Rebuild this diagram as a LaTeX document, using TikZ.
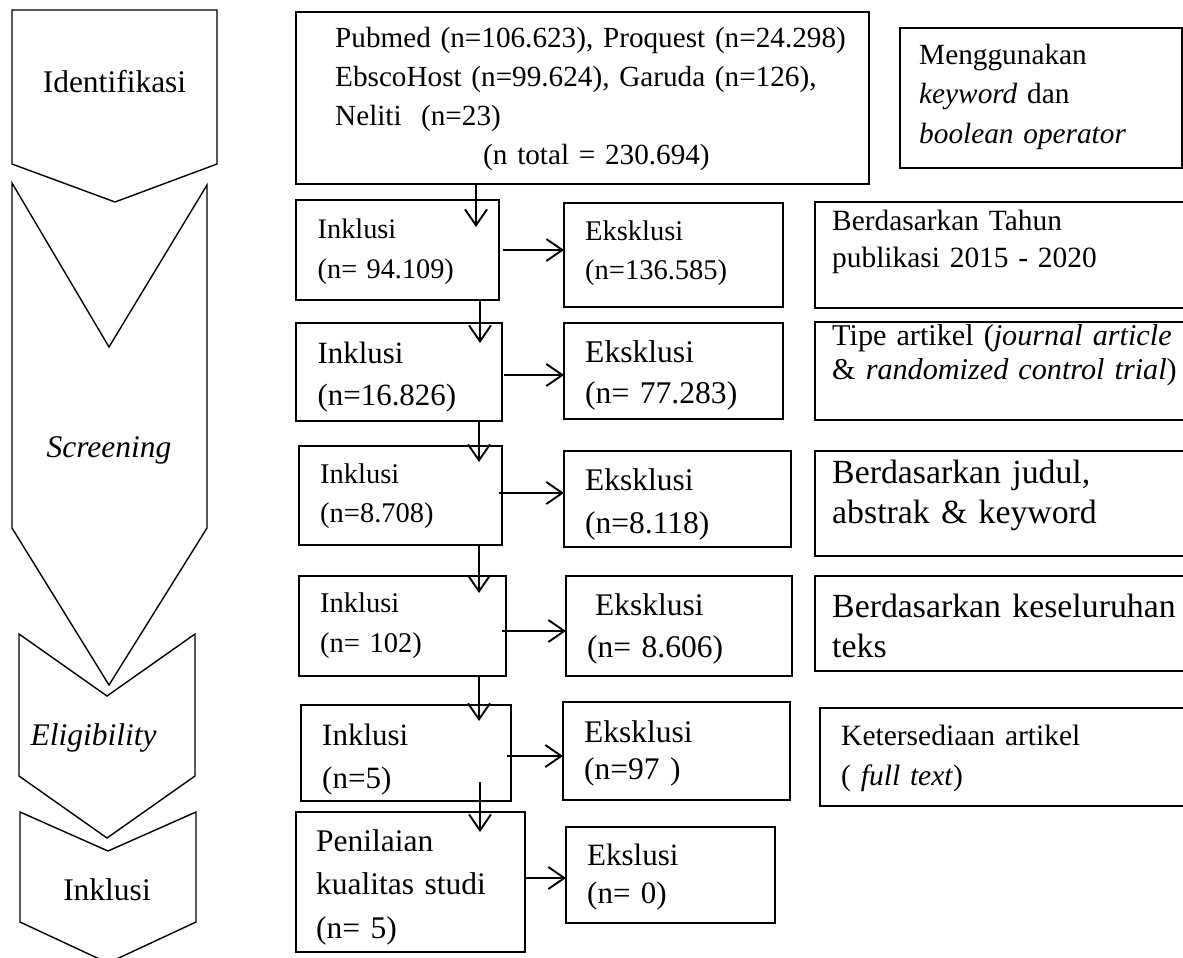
\documentclass[tikz,border=0pt]{standalone}
\usepackage{fontspec}
\setmainfont{Liberation Serif}
\usetikzlibrary{arrows.meta,fit,calc}
\newcommand\fs[2]{\fontsize{#1}{#2}\selectfont}
\tikzset{
  box/.style={draw, line width=1.6pt, inner sep=0pt, outer sep=0pt},
  arr/.style={line width=1.9pt, -{Straight Barb[length=16pt,width=22pt]}},
  chev/.style={line width=1.4pt, line join=miter},
  lbl/.style={anchor=base west, inner sep=0pt, text width=600pt, align=left},
  side/.style={anchor=base, inner sep=0pt},
}
\begin{document}
\begin{tikzpicture}[x=1pt,y=-1pt]
\useasboundingbox (0,0) rectangle (1183,958);
\clip (0,0) rectangle (1183,958);

% stage chevrons
\draw[chev] (12,10) -- (217,10) -- (217,164) -- (115,202) -- (12,164) -- cycle;
\draw[chev] (12,183) -- (109,347) -- (207,185) -- (207,528) -- (109,685) -- (12,528) -- cycle;
\draw[chev] (19,634) -- (107,696) -- (195,634) -- (195,776) -- (107,838) -- (19,776) -- cycle;
\draw[chev] (20,812) -- (108,851) -- (196,812) -- (196,922) -- (108,963) -- (20,922) -- cycle;
\node[side, font=\fs{31.5}{38}] (lid) at (114.5,92.7) {Identifikasi};
\node[side, font=\fs{31.5}{38}\itshape] (lsc) at (109,457) {Screening};
\node[side, font=\fs{31.5}{38}\itshape] (lel) at (93.5,745) {Eligibility};
\node[side, font=\fs{31.5}{38}] (lin) at (107,900) {Inklusi};

% boxes
\node[box, fit={(296,12) (869,184)}] (top) {};
\node[box, fit={(900,28) (1182,168)}] (kw) {};
\node[box, fit={(296,200) (499,300)}] (in1) {};
\node[box, fit={(564,203) (783,307)}] (ex1) {};
\node[box, fit={(815,202) (1195,308)}] (r1) {};
\node[box, fit={(296,323) (502,421)}] (in2) {};
\node[box, fit={(564,323) (783,419)}] (ex2) {};
\node[box, fit={(815,322) (1195,420)}] (r2) {};
\node[box, fit={(299,446) (502,545)}] (in3) {};
\node[box, fit={(564,451) (791,547)}] (ex3) {};
\node[box, fit={(815,451) (1195,556)}] (r3) {};
\node[box, fit={(299,576) (506,676)}] (in4) {};
\node[box, fit={(566,576) (792,676)}] (ex4) {};
\node[box, fit={(815,576) (1195,671)}] (r4) {};
\node[box, fit={(301,705) (511,801)}] (in5) {};
\node[box, fit={(563,702) (790,800)}] (ex5) {};
\node[box, fit={(820,708) (1195,806)}] (r5) {};
\node[box, fit={(296,812) (525,952)}] (pen) {};
\node[box, fit={(566,827) (775,923)}] (ex6) {};

% texts
\node[lbl, font=\fs{29.2}{39}] (topt) at (335,48) {Pubmed (n=106.623), Proquest (n=24.298)\\EbscoHost (n=99.624), Garuda (n=126),\\Neliti~ (n=23)\\\hspace*{148pt}(n total = 230.694)};
\node[lbl, font=\fs{29.3}{39}] (kwt) at (919,65) {Menggunakan\\\textit{keyword} dan\\\textit{boolean operator}};
\node[lbl, font=\fs{28.3}{40}] (in1t) at (317.5,238) {Inklusi\\(n= 94.109)};
\node[lbl, font=\fs{28.5}{39}] (ex1t) at (585,240) {Eksklusi\\(n=136.585)};
\node[lbl, font=\fs{29.4}{37}] (r1t) at (832,230) {Berdasarkan Tahun\\publikasi 2015 - 2020};
\node[lbl, font=\fs{30.9}{42}] (in2t) at (317.5,363) {Inklusi\\(n=16.826)};
\node[lbl, font=\fs{31.6}{41}] (ex2t) at (585,362) {Eksklusi\\(n= 77.283)};
\node[lbl, font=\fs{30.2}{34}] (r2t) at (832,345) {Tipe artikel (\textit{journal article}\\\& \textit{randomized control trial})};
\node[lbl, font=\fs{28.5}{39}] (in3t) at (320,483) {Inklusi\\(n=8.708)};
\node[lbl, font=\fs{31.5}{43}] (ex3t) at (585,490) {Eksklusi\\(n=8.118)};
\node[lbl, font=\fs{33.8}{40}] (r3t) at (832,483) {Berdasarkan judul,\\abstrak \& keyword};
\node[lbl, font=\fs{28.5}{40}] (in4t) at (320,612) {Inklusi\\(n= 102)};
\node[lbl, font=\fs{31.5}{42}] (ex4t) at (587,615) {\hspace*{8pt}Eksklusi\\(n= 8.606)};
\node[lbl, font=\fs{33.8}{40}] (r4t) at (832,617) {Berdasarkan keseluruhan\\teks};
\node[lbl, font=\fs{31}{43}] (in5t) at (322,745) {Inklusi\\(n=5)};
\node[lbl, font=\fs{31.5}{37}] (ex5t) at (584,742) {Eksklusi\\(n=97\ )};
\node[lbl, font=\fs{29.5}{40}] (r5t) at (841,745) {Ketersediaan artikel\\(\ \textit{full text})};
\node[lbl, font=\fs{31.5}{43.5}] (pent) at (316,851) {Penilaian\\kualitas studi\\(n= 5)};
\node[lbl, font=\fs{31}{38}] (ex6t) at (587,865) {Ekslusi\\(n= 0)};

% helper coordinates
\coordinate (xa) at (476,0);
\coordinate (xb) at (480,0);
\coordinate (xc) at (479,0);
\coordinate (ya) at (0,250);
\coordinate (yb) at (0,375);
\coordinate (yc) at (0,493);
\coordinate (yd) at (0,631);
\coordinate (ye) at (0,756);
\coordinate (yf) at (0,878);

% vertical connectors
\draw[arr] (top.south -| xa) -- ($(in1.north -| xa)+(0,27)$);
\draw[arr] (in1.south -| xb) -- ($(in2.north -| xb)+(0,20)$);
\draw[arr] (in2.south -| xc) -- ($(in3.north -| xc)+(0,16)$);
\draw[arr] (in3.south -| xc) -- ($(in4.north -| xc)+(0,17)$);
\draw[arr] (in4.south -| xc) -- ($(in5.north -| xc)+(0,16)$);
\draw[arr] ($(in5.south -| xb)+(0,-19)$) -- ($(pen.north -| xb)+(0,20)$);

% horizontal connectors
\draw[arr] ($(in1.east |- ya)+(4,0)$) -- (ex1.west |- ya);
\draw[arr] ($(in2.east |- yb)+(2,0)$) -- (ex2.west |- yb);
\draw[arr] ($(in3.east |- yc)+(-3,0)$) -- (ex3.west |- yc);
\draw[arr] ($(in4.east |- yd)+(-4,0)$) -- (ex4.west |- yd);
\draw[arr] ($(in5.east |- ye)+(-4,0)$) -- (ex5.west |- ye);
\draw[arr] (pen.east |- yf) -- (ex6.west |- yf);
\end{tikzpicture}
\end{document}
